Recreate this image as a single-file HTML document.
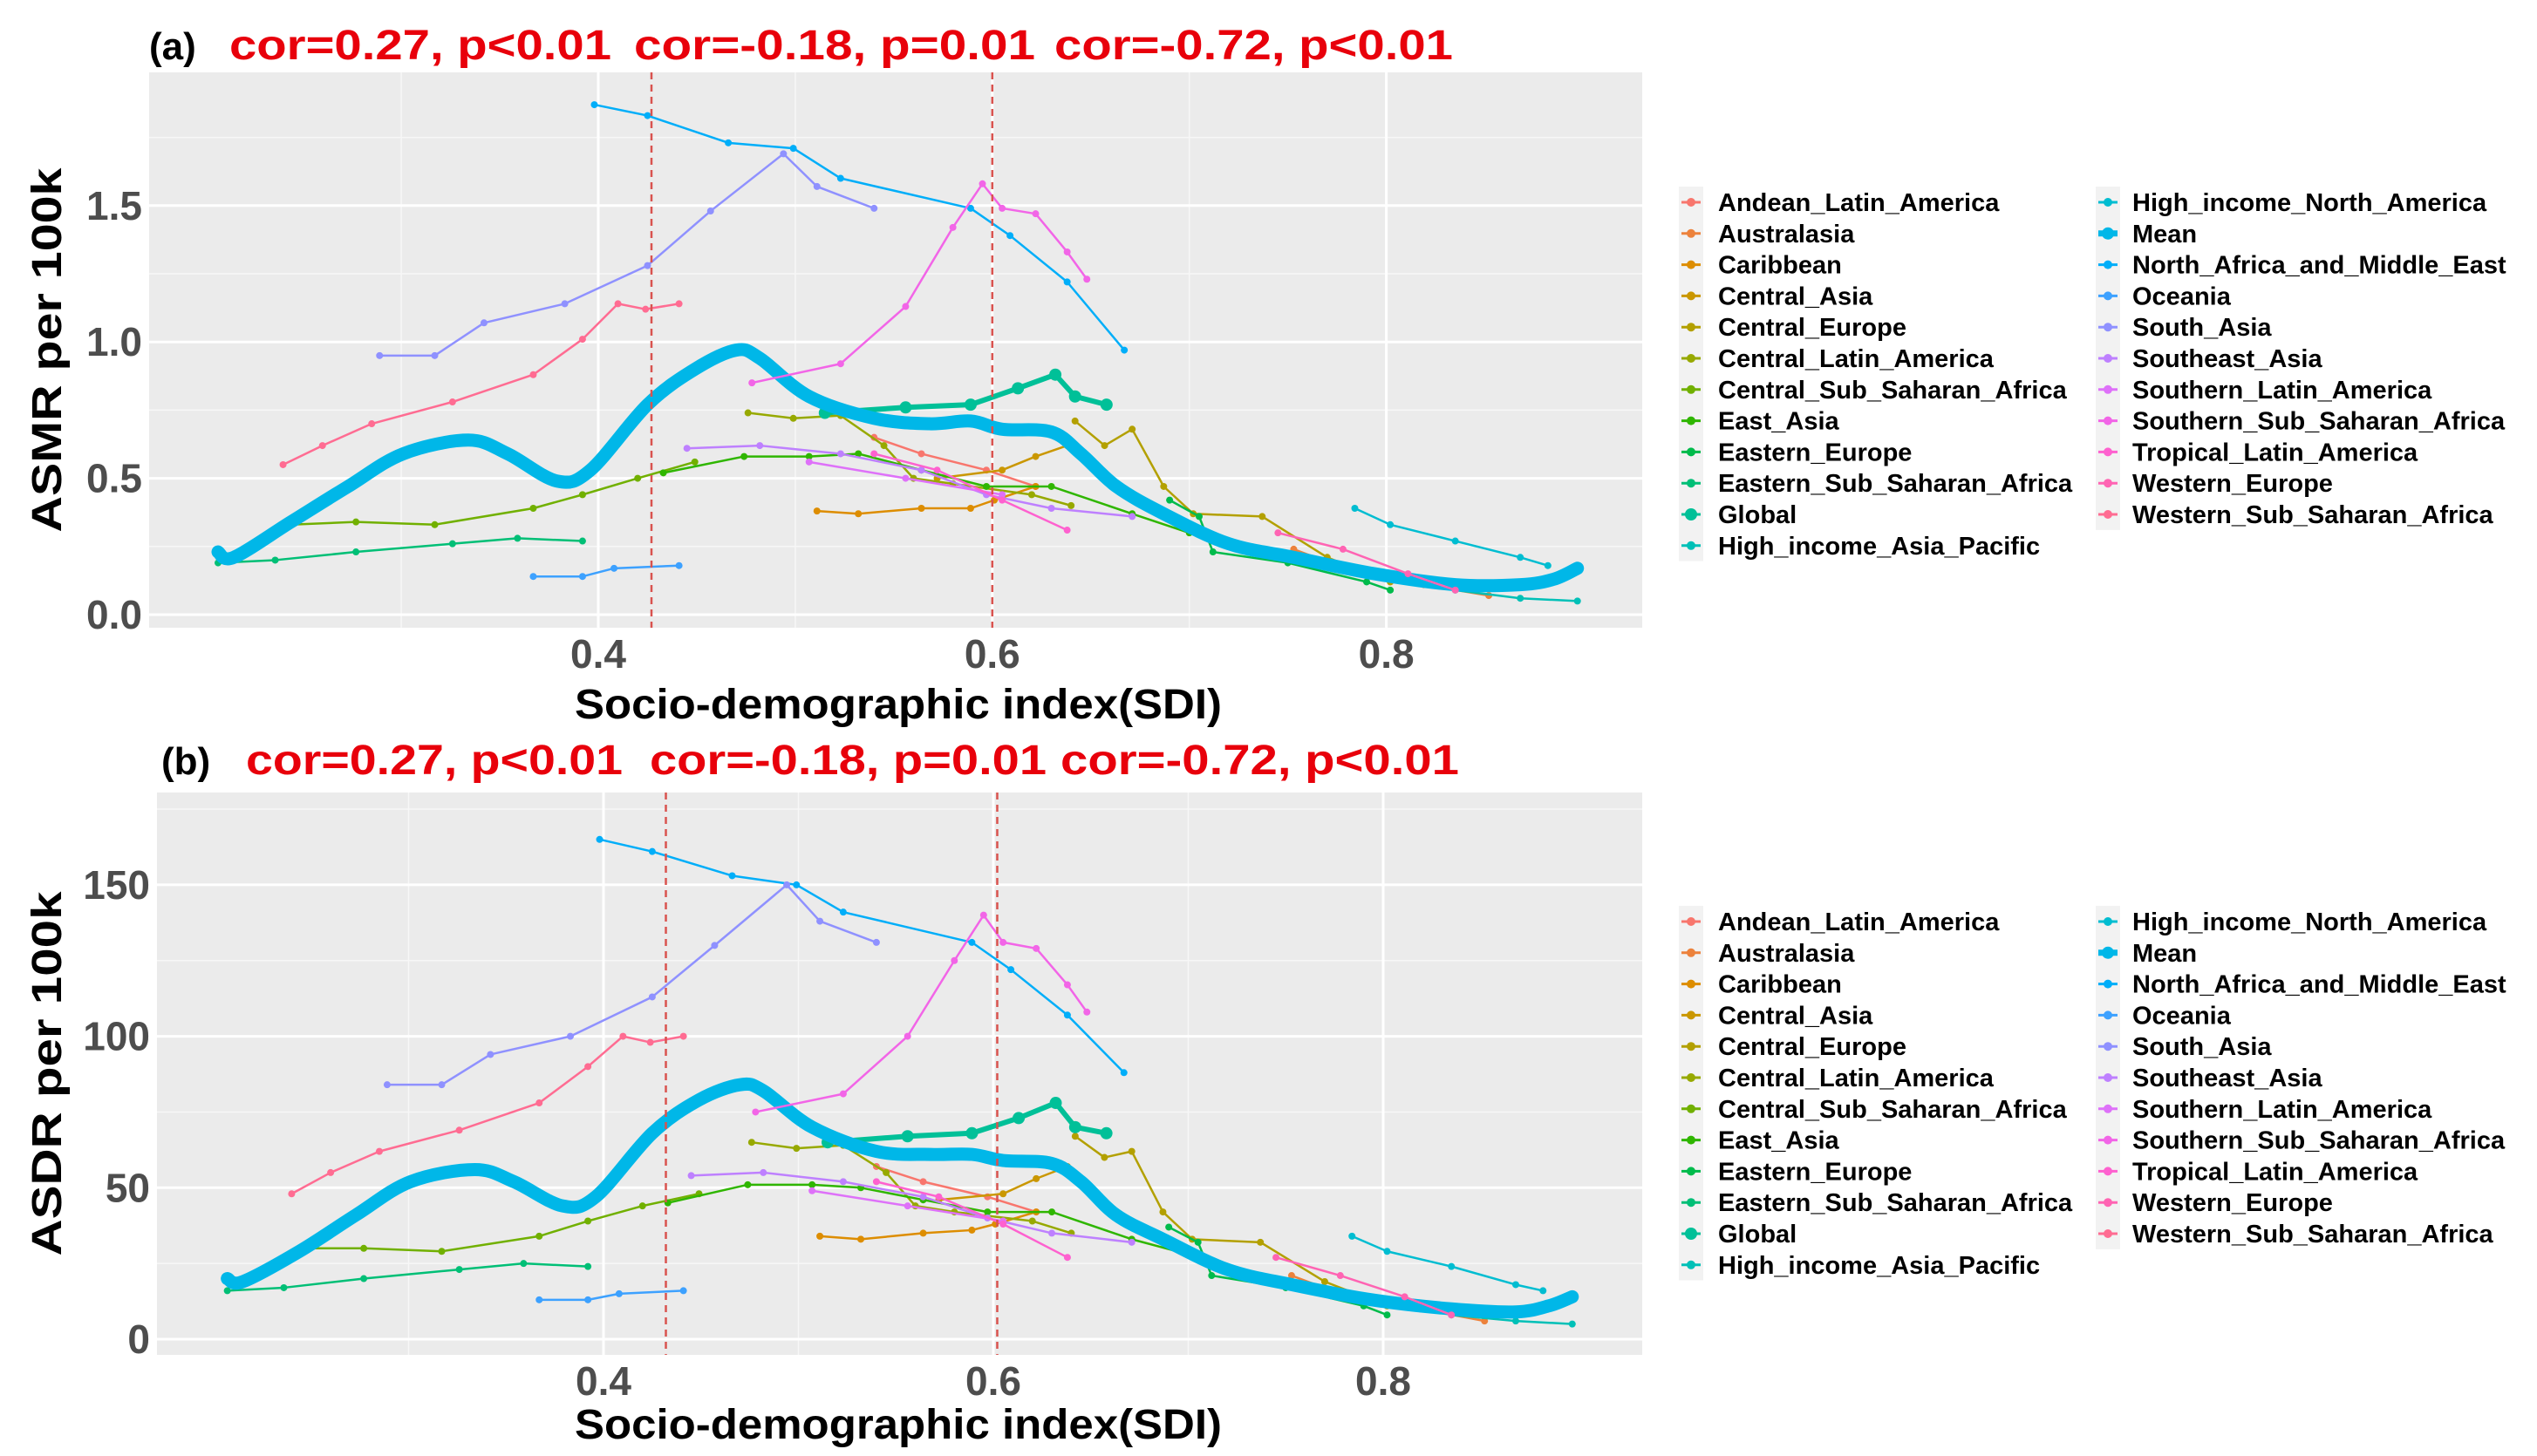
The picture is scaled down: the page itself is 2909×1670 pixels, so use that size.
<!DOCTYPE html>
<html><head><meta charset="utf-8"><style>
body{margin:0;background:#fff;}
svg{display:block;font-family:"Liberation Sans",sans-serif;}
</style></head><body>
<svg id="chart" width="2909" height="1670" viewBox="0 0 2909 1670"></svg>
<script>
const regionNames=["Andean_Latin_America","Australasia","Caribbean","Central_Asia","Central_Europe","Central_Latin_America","Central_Sub_Saharan_Africa","East_Asia","Eastern_Europe","Eastern_Sub_Saharan_Africa","Global","High_income_Asia_Pacific","High_income_North_America","Mean","North_Africa_and_Middle_East","Oceania","South_Asia","Southeast_Asia","Southern_Latin_America","Southern_Sub_Saharan_Africa","Tropical_Latin_America","Western_Europe","Western_Sub_Saharan_Africa"];
const sdiAndean=[0.540,0.564,0.597,0.622];
const sdiAustralasia=[0.753,0.786,0.819,0.852];
const sdiCaribbean=[0.511,0.532,0.564,0.589,0.601,0.622];
const sdiCentralAsia=[0.572,0.605,0.622,0.638];
const sdiCentralEurope=[0.642,0.657,0.671,0.687,0.702,0.737,0.770,0.802];
const sdiCentralLatAm=[0.476,0.499,0.523,0.545,0.560,0.580,0.620,0.640];
const sdiCentralSSA=[0.244,0.277,0.317,0.367,0.392,0.420,0.449];
const sdiEastAsia=[0.433,0.474,0.507,0.532,0.564,0.597,0.630,0.671,0.700];
const sdiEasternEurope=[0.690,0.705,0.712,0.750,0.790,0.802];
const sdiEasternSSA=[0.207,0.236,0.277,0.326,0.359,0.392];
const sdiGlobal=[0.515,0.556,0.589,0.613,0.632,0.642,0.658];
const sdiHIAP=[0.835,0.868,0.897];
const sdiHINA=[0.784,0.802,0.835,0.868,0.882];
const sdiMean=[0.207,0.215,0.244,0.273,0.301,0.334,0.354,0.379,0.396,0.425,0.449,0.470,0.482,0.507,0.540,0.568,0.589,0.605,0.630,0.645,0.663,0.687,0.720,0.753,0.794,0.835,0.868,0.885,0.897];
const sdiNAME=[0.398,0.425,0.466,0.499,0.523,0.589,0.609,0.638,0.667];
const sdiOceania=[0.367,0.392,0.408,0.441];
const sdiSouthAsia=[0.289,0.317,0.342,0.383,0.425,0.457,0.494,0.511,0.540];
const sdiSEAsia=[0.445,0.482,0.523,0.564,0.597,0.630,0.671];
const sdiSouthernLatAm=[0.507,0.556,0.605];
const sdiSouthernSSA=[0.478,0.523,0.556,0.580,0.595,0.605,0.622,0.638,0.648];
const sdiTropicalLatAm=[0.540,0.572,0.605,0.638];
const sdiWesternEurope=[0.745,0.778,0.811,0.835];
const sdiWesternSSA=[0.240,0.260,0.285,0.326,0.367,0.392,0.410,0.424,0.441];
const sdiSeries=[sdiAndean,sdiAustralasia,sdiCaribbean,sdiCentralAsia,sdiCentralEurope,sdiCentralLatAm,sdiCentralSSA,sdiEastAsia,sdiEasternEurope,sdiEasternSSA,sdiGlobal,sdiHIAP,sdiHINA,sdiMean,sdiNAME,sdiOceania,sdiSouthAsia,sdiSEAsia,sdiSouthernLatAm,sdiSouthernSSA,sdiTropicalLatAm,sdiWesternEurope,sdiWesternSSA];
const asmrAndean=[0.65,0.59,0.53,0.47];
const asmrAustralasia=[0.24,0.15,0.11,0.07];
const asmrCaribbean=[0.38,0.37,0.39,0.39,0.42,0.47];
const asmrCentralAsia=[0.50,0.53,0.58,0.62];
const asmrCentralEurope=[0.71,0.62,0.68,0.47,0.37,0.36,0.21,0.12];
const asmrCentralLatAm=[0.74,0.72,0.73,0.62,0.50,0.48,0.44,0.40];
const asmrCentralSSA=[0.33,0.34,0.33,0.39,0.44,0.50,0.56];
const asmrEastAsia=[0.52,0.58,0.58,0.59,0.53,0.47,0.47,0.37,0.30];
const asmrEasternEurope=[0.42,0.36,0.23,0.19,0.12,0.09];
const asmrEasternSSA=[0.19,0.20,0.23,0.26,0.28,0.27];
const asmrGlobal=[0.74,0.76,0.77,0.83,0.88,0.80,0.77];
const asmrHIAP=[0.09,0.06,0.05];
const asmrHINA=[0.39,0.33,0.27,0.21,0.18];
const asmrMean=[0.23,0.21,0.34,0.47,0.59,0.64,0.59,0.49,0.53,0.77,0.90,0.97,0.94,0.80,0.72,0.70,0.71,0.68,0.67,0.59,0.47,0.37,0.26,0.21,0.15,0.11,0.11,0.13,0.17];
const asmrNAME=[1.87,1.83,1.73,1.71,1.60,1.49,1.39,1.22,0.97];
const asmrOceania=[0.14,0.14,0.17,0.18];
const asmrSouthAsia=[0.95,0.95,1.07,1.14,1.28,1.48,1.69,1.57,1.49];
const asmrSEAsia=[0.61,0.62,0.59,0.53,0.44,0.39,0.36];
const asmrSouthernLatAm=[0.56,0.50,0.44];
const asmrSouthernSSA=[0.85,0.92,1.13,1.42,1.58,1.49,1.47,1.33,1.23];
const asmrTropicalLatAm=[0.59,0.53,0.42,0.31];
const asmrWesternEurope=[0.30,0.24,0.15,0.09];
const asmrWesternSSA=[0.55,0.62,0.70,0.78,0.88,1.01,1.14,1.12,1.14];
const asmrSeries=[asmrAndean,asmrAustralasia,asmrCaribbean,asmrCentralAsia,asmrCentralEurope,asmrCentralLatAm,asmrCentralSSA,asmrEastAsia,asmrEasternEurope,asmrEasternSSA,asmrGlobal,asmrHIAP,asmrHINA,asmrMean,asmrNAME,asmrOceania,asmrSouthAsia,asmrSEAsia,asmrSouthernLatAm,asmrSouthernSSA,asmrTropicalLatAm,asmrWesternEurope,asmrWesternSSA];
const asdrAndean=[57,52,47,42];
const asdrAustralasia=[21,13,10,6];
const asdrCaribbean=[34,33,35,36,38,42];
const asdrCentralAsia=[46,48,53,57];
const asdrCentralEurope=[67,60,62,42,33,32,19,11];
const asdrCentralLatAm=[65,63,64,55,44,42,39,35];
const asdrCentralSSA=[30,30,29,34,39,44,48];
const asdrEastAsia=[45,51,51,50,46,42,42,33,28];
const asdrEasternEurope=[37,32,21,17,11,8];
const asdrEasternSSA=[16,17,20,23,25,24];
const asdrGlobal=[65,67,68,73,78,70,68];
const asdrHIAP=[8,6,5];
const asdrHINA=[34,29,24,18,16];
const asdrMean=[20,19,29,41,52,56,52,44,47,68,79,84,82,70,62,61,61,59,58,52,41,33,23,18,13,10,9,11,14];
const asdrNAME=[165,161,153,150,141,131,122,107,88];
const asdrOceania=[13,13,15,16];
const asdrSouthAsia=[84,84,94,100,113,130,150,138,131];
const asdrSEAsia=[54,55,52,47,40,35,32];
const asdrSouthernLatAm=[49,44,39];
const asdrSouthernSSA=[75,81,100,125,140,131,129,117,108];
const asdrTropicalLatAm=[52,47,38,27];
const asdrWesternEurope=[27,21,14,8];
const asdrWesternSSA=[48,55,62,69,78,90,100,98,100];
const asdrSeries=[asdrAndean,asdrAustralasia,asdrCaribbean,asdrCentralAsia,asdrCentralEurope,asdrCentralLatAm,asdrCentralSSA,asdrEastAsia,asdrEasternEurope,asdrEasternSSA,asdrGlobal,asdrHIAP,asdrHINA,asdrMean,asdrNAME,asdrOceania,asdrSouthAsia,asdrSEAsia,asdrSouthernLatAm,asdrSouthernSSA,asdrTropicalLatAm,asdrWesternEurope,asdrWesternSSA];
const xTicks=[0.4,0.6,0.8];
const xTickLabels=["0.4","0.6","0.8"];
const yTicksA=[0,0.5,1.0,1.5];
const yTickLabelsA=["0.0","0.5","1.0","1.5"];
const yTicksB=[0,50,100,150];
const yTickLabelsB=["0","50","100","150"];
const corTexts=["cor=0.27, p<0.01","cor=-0.18, p=0.01","cor=-0.72, p<0.01"];
const cutoffsA=[0.427,0.6];
const cutoffsB=[0.432,0.602];

const NS="http://www.w3.org/2000/svg";
const svg=document.getElementById('chart');
function mk(tag,attrs,parent){const e=document.createElementNS(NS,tag);for(const k in attrs)e.setAttribute(k,attrs[k]);(parent||svg).appendChild(e);return e;}
function hcl(h,c,l){const hr=h*Math.PI/180,U=c*Math.cos(hr),V=c*Math.sin(hr);const Y=l>8?Math.pow((l+16)/116,3):l/903.3;const Xn=0.95047,Yn=1,Zn=1.08883;const d=Xn+15*Yn+3*Zn,un=4*Xn/d,vn=9*Yn/d;const u=U/(13*l)+un,v=V/(13*l)+vn;const X=9*Y*u/(4*v);const Z=-X/3-5*Y+3*Y/v;let r=3.2406*X-1.5372*Y-0.4986*Z,g=-0.9689*X+1.8758*Y+0.0415*Z,b=0.0557*X-0.2040*Y+1.0570*Z;const gm=x=>{x=x<=0.0031308?12.92*x:1.055*Math.pow(x,1/2.4)-0.055;return Math.round(Math.max(0,Math.min(1,x))*255);};return `rgb(${gm(r)},${gm(g)},${gm(b)})`;}
const colors=regionNames.map((n,i)=>hcl(15+i*360/23,100,65));
function smoothPath(p){let d=`M${p[0][0]},${p[0][1]}`;for(let i=0;i<p.length-1;i++){const p0=p[i-1]||p[i],p1=p[i],p2=p[i+1],p3=p[i+2]||p2;d+=` C${p1[0]+(p2[0]-p0[0])/6},${p1[1]+(p2[1]-p0[1])/6} ${p2[0]-(p3[0]-p1[0])/6},${p2[1]-(p3[1]-p1[1])/6} ${p2[0]},${p2[1]}`;}return d;}

function panel(cfg){
  const g=mk('g',{});
  
  
  const sx=v=>cfg.x0+(v-0.4)*cfg.xk;
  const sy=v=>cfg.y0-v*cfg.yk;
  const bg=mk('rect',{x:cfg.L,y:cfg.T,width:cfg.R-cfg.L,height:cfg.B-cfg.T,fill:'#ebebeb'},g);
  
  cfg.yMinor.forEach(v=>mk('line',{x1:cfg.L,x2:cfg.R,y1:sy(v),y2:sy(v),stroke:'#f7f7f7','stroke-width':1.5},g));
  [0.3,0.5,0.7].forEach(v=>mk('line',{x1:sx(v),x2:sx(v),y1:cfg.T,y2:cfg.B,stroke:'#f7f7f7','stroke-width':1.5},g));
  cfg.yTicks.forEach((v,i)=>{
    mk('line',{x1:cfg.L,x2:cfg.R,y1:sy(v),y2:sy(v),stroke:'#fff','stroke-width':3},g);
    const t=mk('text',{x:cfg.L-8,y:sy(v)+16,'text-anchor':'end','font-size':46,'font-weight':'bold',fill:'#4d4d4d'},g);
    t.textContent=cfg.yLabels[i];
    
  });
  xTicks.forEach((v,i)=>{
    mk('line',{x1:sx(v),x2:sx(v),y1:cfg.T,y2:cfg.B,stroke:'#fff','stroke-width':3},g);
    const t=mk('text',{x:sx(v),y:cfg.B+46,'text-anchor':'middle','font-size':46,'font-weight':'bold',fill:'#4d4d4d'},g);
    t.textContent=xTickLabels[i];
    
  });
  cfg.ser.forEach((ys,i)=>{
    const xs=sdiSeries[i];
    const isMean=regionNames[i]==='Mean', isGlobal=regionNames[i]==='Global';
    const sg=mk('g',{},g);
    
    
    if(isMean){
      mk('path',{d:smoothPath(xs.map((x,j)=>[sx(x),sy(ys[j])])),fill:'none',stroke:colors[i],'stroke-width':15,'stroke-linecap':'round'},sg);
    } else {
      const pts=xs.map((x,j)=>sx(x)+','+sy(ys[j])).join(' ');
      mk('polyline',{points:pts,fill:'none',stroke:colors[i],'stroke-width':isGlobal?6:2.5,'stroke-linejoin':'round','stroke-linecap':'round'},sg);
      xs.forEach((x,j)=>mk('circle',{cx:sx(x),cy:sy(ys[j]),r:isGlobal?7:4,fill:colors[i]},sg));
    }
  });
  cfg.cut.forEach(v=>{
    const l=mk('line',{x1:sx(v),x2:sx(v),y1:cfg.T,y2:cfg.B,stroke:'#d9534f','stroke-width':2.5,'stroke-dasharray':'8,6'},g);
    
  });
  const tag=mk('text',{x:cfg.tagX,y:cfg.titleY,'font-size':44,'font-weight':'bold',fill:'#000'},g);
  tag.textContent=cfg.tag;
  corTexts.forEach((s,i)=>{
    const t=mk('text',{x:cfg.corX[i],y:cfg.titleY,'font-size':48,'font-weight':'bold',fill:'#e8000b',textLength:cfg.corW[i],lengthAdjust:'spacingAndGlyphs'},g);
    t.textContent=s;
  });
  const yt=mk('text',{x:0,y:0,transform:`translate(${cfg.yTitleX},${(cfg.T+cfg.B)/2}) rotate(-90)`,'text-anchor':'middle','font-size':48,'font-weight':'bold',fill:'#000',textLength:418,lengthAdjust:'spacingAndGlyphs'},g);
  yt.textContent=cfg.yTitle;
  const xt=mk('text',{x:1030,y:cfg.xTitleY,'text-anchor':'middle','font-size':48,'font-weight':'bold',fill:'#000',textLength:742,lengthAdjust:'spacingAndGlyphs'},g);
  xt.textContent='Socio-demographic index(SDI)';
  const lg=mk('g',{},g);
  
  mk('rect',{x:1925,y:cfg.legY-18,width:28,height:12*35.8,fill:'#f2f2f2'},lg);
  mk('rect',{x:2403,y:cfg.legY-18,width:28,height:11*35.8,fill:'#f2f2f2'},lg);
  regionNames.forEach((n,i)=>{
    const col=i<12?0:1, row=i<12?i:i-12;
    const kx=col?2417:1939, tx=col?2445:1970, y=cfg.legY+row*35.8;
    const e=mk('g',{},lg);
    
    
    mk('line',{x1:kx-11,x2:kx+11,y1:y,y2:y,stroke:colors[i],'stroke-width':n==='Mean'?7:3},e);
    mk('circle',{cx:kx,cy:y,r:n==='Global'||n==='Mean'?7:5,fill:colors[i]},e);
    const t=mk('text',{x:tx,y:y+10,'font-size':29,'font-weight':'bold',fill:'#000'},e);
    t.textContent=n;
  });
}
panel({name:'panel-a-asmr',L:171,R:1883,T:83,B:720,x0:686,xk:2259,y0:705,yk:312.8,yTicks:yTicksA,yLabels:yTickLabelsA,yMinor:[0.25,0.75,1.25,1.75],ser:asmrSeries,cut:cutoffsA,tag:'(a)',tagX:171,titleY:68,corX:[263,727,1209],corW:[438,460,457],yTitle:'ASMR per 100k',yTitleX:70,xTitleY:824,legY:232});
panel({name:'panel-b-asdr',L:180,R:1883,T:909,B:1554,x0:692,xk:2235,y0:1536,yk:3.474,yTicks:yTicksB,yLabels:yTickLabelsB,yMinor:[25,75,125,175],ser:asdrSeries,cut:cutoffsB,tag:'(b)',tagX:185,titleY:888,corX:[282,745,1216],corW:[432,455,457],yTitle:'ASDR per 100k',yTitleX:70,xTitleY:1650,legY:1057});
</script>
</body></html>
